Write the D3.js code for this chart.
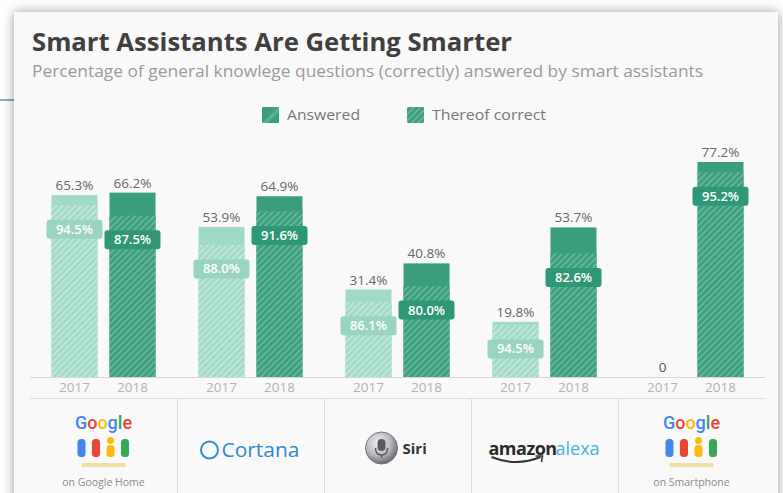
<!DOCTYPE html>
<html><head><meta charset="utf-8">
<script src="https://cdn.jsdelivr.net/npm/d3@7/dist/d3.min.js"></script>
<style>
html,body{margin:0;padding:0;background:#fff;}
svg{display:block;font-family:"Open Sans",sans-serif;}
</style></head>
<body>
<svg id="chart" width="783" height="493"></svg>
<script>
// ---- data ----
const categories = ["Google Home", "Cortana", "Siri", "Alexa", "Google Smartphone"];
const years = ["2017", "2018"];
const answered2017 = [65.3, 53.9, 31.4, 19.8, 0];
const answered2018 = [66.2, 64.9, 40.8, 53.7, 77.2];
const correct2017 = [94.5, 88.0, 86.1, 94.5, null];
const correct2018 = [87.5, 91.6, 80.0, 82.6, 95.2];
const legendLabels = ["Answered", "Thereof correct"];
const title = "Smart Assistants Are Getting Smarter";
const subtitle = "Percentage of general knowlege questions (correctly) answered by smart assistants";

const svg = d3.select("#chart");
const defs = svg.append("defs");

// shadow filter
const f = defs.append("filter").attr("id","shadow").attr("x","-5%").attr("y","-5%").attr("width","110%").attr("height","110%");
f.append("feDropShadow").attr("dx",0).attr("dy",0).attr("stdDeviation",6).attr("flood-color","#000").attr("flood-opacity",0.4);

// hatch patterns
const colors = {
  "2017": {base:"#a3dac8", stripe:"#c2e8db", solid:"#a0d9c6", badge:"#98d4c0"},
  "2018": {base:"#3d9f80", stripe:"#68b99d", solid:"#3a9e7e", badge:"#2f9776"}
};
years.forEach(yr => {
  const p = defs.append("pattern").attr("id","hatch"+yr).attr("patternUnits","userSpaceOnUse")
    .attr("width",4.5).attr("height",4.5).attr("patternTransform","rotate(45)");
  p.append("rect").attr("width",4.5).attr("height",4.5).attr("fill",colors[yr].base);
  p.append("rect").attr("width",1.6).attr("height",4.5).attr("fill",colors[yr].stripe);
});

// background line and card
svg.append("line").attr("x1",0).attr("x2",16).attr("y1",100).attr("y2",100).attr("stroke","#6d8db3").attr("stroke-width",1.5);
svg.append("rect").attr("x",14).attr("y",12).attr("width",764).attr("height",520)
  .attr("fill","#f9f9f9").attr("filter","url(#shadow)");

// title / subtitle (condensed to reference width)
svg.append("text").attr("x",32).attr("y",51).attr("font-size",25).attr("font-weight",700)
  .attr("fill","#404040").attr("textLength",480).attr("lengthAdjust","spacingAndGlyphs").text(title);
svg.append("text").attr("x",32).attr("y",77).attr("font-size",16)
  .attr("fill","#9a9a9a").attr("textLength",671).attr("lengthAdjust","spacingAndGlyphs").text(subtitle);

// legend
const legendX = [262, 407];
legendLabels.forEach((lab,i) => {
  const g = svg.append("g").attr("transform",`translate(${legendX[i]},107)`);
  g.append("rect").attr("width",17).attr("height",16).attr("rx",1)
    .attr("fill", i===0 ? "#3a9e7e" : "url(#hatch2018)");
  if(i===0){
    g.append("path").attr("d","M0,16 L17,0 L17,5 L5,16Z").attr("fill","#6fbfa3").attr("opacity",0.6);
  }
  g.append("text").attr("x",25).attr("y",13).attr("font-size",14).attr("fill","#777")
    .attr("textLength", i===0 ? 73 : 114).attr("lengthAdjust","spacingAndGlyphs").text(lab);
});

// scales
const x0 = d3.scaleBand().domain(categories).range([30, 765]);
const bw0 = x0.bandwidth();
const x1 = d3.scaleBand().domain(years).range([bw0/2-52, bw0/2+52]).paddingInner(0.207).paddingOuter(0);
const y = d3.scaleLinear().domain([0,100]).range([377, 98.5]);

const rows = [];
categories.forEach((c,i) => {
  rows.push({cat:c, year:"2017", ans:answered2017[i], cor:correct2017[i]});
  rows.push({cat:c, year:"2018", ans:answered2018[i], cor:correct2018[i]});
});

const bars = svg.append("g");
rows.forEach(d => {
  const bx = x0(d.cat) + x1(d.year);
  const w = x1.bandwidth();
  const cx = bx + w/2;
  const c = colors[d.year];
  if(d.ans > 0){
    bars.append("rect").attr("x",bx).attr("y",y(d.ans)).attr("width",w).attr("height",y(0)-y(d.ans)).attr("fill",c.solid);
    const hv = d.ans*d.cor/100;
    bars.append("rect").attr("x",bx).attr("y",y(hv)).attr("width",w).attr("height",y(0)-y(hv)).attr("fill","url(#hatch"+d.year+")");
    bars.append("text").attr("x",cx).attr("y",y(d.ans)-5).attr("text-anchor","middle")
      .attr("font-size",13.5).attr("fill","#666").text(d.ans.toFixed(1)+"%");
    const by = y(hv) + 24;
    bars.append("rect").attr("x",cx-28).attr("y",by-9.5).attr("width",56).attr("height",19).attr("rx",3)
      .attr("fill",c.badge);
    bars.append("text").attr("x",cx).attr("y",by+4.5).attr("text-anchor","middle")
      .attr("font-size",13).attr("font-weight",600).attr("fill","#fff").text(d.cor.toFixed(1)+"%");
  } else {
    bars.append("text").attr("x",cx).attr("y",y(0)-5).attr("text-anchor","middle")
      .attr("font-size",13.5).attr("fill","#555").text("0");
  }
  svg.append("text").attr("x",cx).attr("y",392).attr("text-anchor","middle")
    .attr("font-size",13.5).attr("fill","#b3b3b3").text(d.year);
});

// axis lines
svg.append("line").attr("x1",30).attr("x2",765).attr("y1",377.5).attr("y2",377.5).attr("stroke","#d6d6d6");
svg.append("line").attr("x1",30).attr("x2",765).attr("y1",398.5).attr("y2",398.5).attr("stroke","#dcdcdc");
categories.slice(1).forEach(c => {
  const xx = Math.round(x0(c))+0.5;
  svg.append("line").attr("x1",xx).attr("x2",xx).attr("y1",399).attr("y2",493).attr("stroke","#dcdcdc");
});

// logos
function googleLogo(cx, caption){
  const g = svg.append("g");
  const txt = g.append("text").attr("x",cx).attr("y",429).attr("text-anchor","middle").attr("font-size",18)
    .attr("font-family","Roboto, sans-serif").attr("font-weight",500);
  const letters = [["G","#4285F4"],["o","#EA4335"],["o","#FBBC05"],["g","#4285F4"],["l","#34A853"],["e","#EA4335"]];
  letters.forEach(l => txt.append("tspan").attr("fill",l[1]).text(l[0]));
  const bc = ["#4285F4","#EA4335","#FBBC05","#34A853"];
  bc.forEach((col,i) => {
    const bx = cx - 26 + i*14.5;
    const top = i===2 ? 445 : 439;
    g.append("rect").attr("x",bx).attr("y",top).attr("width",8).attr("height",457-top).attr("rx",3.5).attr("fill",col);
    if(i===2) g.append("circle").attr("cx",bx+4).attr("cy",440.5).attr("r",3.5).attr("fill",col);
  });
  g.append("rect").attr("x",cx-22).attr("y",463).attr("width",44).attr("height",4).attr("fill","#f1df9f");
  g.append("text").attr("x",cx).attr("y",486).attr("text-anchor","middle").attr("font-size",10.5)
    .attr("fill","#8a8a8a").text(caption);
}
const centers = categories.map(c => x0(c) + bw0/2);
googleLogo(centers[0], "on Google Home");
googleLogo(centers[4], "on Smartphone");

// Cortana
svg.append("circle").attr("cx",centers[1]-41).attr("cy",450).attr("r",8.5).attr("fill","none").attr("stroke","#2e8fd3").attr("stroke-width",2);
svg.append("text").attr("x",centers[1]-29).attr("y",457).attr("font-size",20).attr("fill","#2e8ad0")
  .attr("textLength",78).attr("lengthAdjust","spacingAndGlyphs").text("Cortana");

// Siri
const sg = defs.append("radialGradient").attr("id","siriGrad").attr("cx","40%").attr("cy","35%").attr("r","65%");
sg.append("stop").attr("offset","0%").attr("stop-color","#f4f4f4");
sg.append("stop").attr("offset","60%").attr("stop-color","#b9b9c0");
sg.append("stop").attr("offset","100%").attr("stop-color","#6d6d75");
const sx = centers[2]-16, sy = 448;
svg.append("circle").attr("cx",sx).attr("cy",sy).attr("r",16).attr("fill","url(#siriGrad)").attr("stroke","#777").attr("stroke-width",1);
svg.append("rect").attr("x",sx-4).attr("y",sy-9).attr("width",8).attr("height",12).attr("rx",4).attr("fill","#5a5a66");
svg.append("path").attr("d",`M${sx-6},${sy} Q${sx-6},${sy+7} ${sx},${sy+7} Q${sx+6},${sy+7} ${sx+6},${sy} M${sx},${sy+7} L${sx},${sy+10}`)
  .attr("fill","none").attr("stroke","#5a5a66").attr("stroke-width",1.5);
svg.append("text").attr("x",centers[2]+5).attr("y",454).attr("font-size",15).attr("font-weight",700)
  .attr("fill","#333").text("Siri");

// Amazon alexa
const ax = centers[3]-56;
svg.append("text").attr("x",ax).attr("y",455).attr("font-size",18).attr("font-weight",700)
  .attr("letter-spacing",-0.5).attr("fill","#2a2a2a").text("amazon");
svg.append("text").attr("x",ax+67).attr("y",455).attr("font-size",18)
  .attr("fill","#45b6da").text("alexa");
svg.append("path").attr("d",`M${ax+3},${457} Q${ax+28},${467} ${ax+52},${457}`).attr("fill","none").attr("stroke","#333").attr("stroke-width",2);
svg.append("path").attr("d",`M${ax+47},${456} L${ax+54},${456} L${ax+53},${462}`).attr("fill","none").attr("stroke","#333").attr("stroke-width",1.6);
</script>
</body></html>
